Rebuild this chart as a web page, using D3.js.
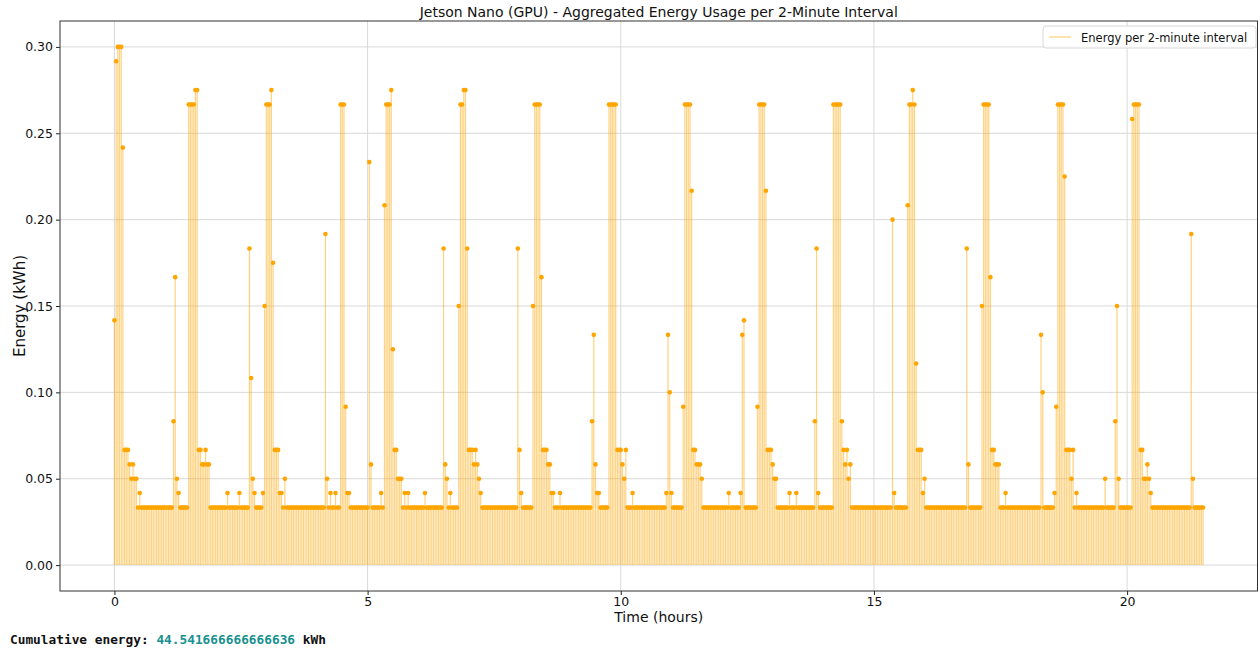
<!DOCTYPE html>
<html>
<head>
<meta charset="utf-8">
<script src="https://cdn.jsdelivr.net/npm/d3@7/dist/d3.min.js"></script>
<style>
  html, body { margin: 0; padding: 0; background: #fff; }
  svg { display: block; }
  .tick text { font-family: "DejaVu Sans", sans-serif; }
</style>
</head>
<body>
<svg id="chart" width="1260" height="651"></svg>
<script>
// ---- data ----
const title = "Jetson Nano (GPU) - Aggregated Energy Usage per 2-Minute Interval";
const xLabel = "Time (hours)";
const yLabel = "Energy (kWh)";
const seriesName = "Energy per 2-minute interval";
const intervalMinutes = 2;
const xTicks = [0, 5, 10, 15, 20];
const yTicks = [0.00, 0.05, 0.10, 0.15, 0.20, 0.25, 0.30];
const cumulativeLabel = "Cumulative energy: ";
const cumulativeValue = "44.541666666666636";
const cumulativeUnit = " kWh";

// energy per 2-minute interval (kWh), one row per hour (30 intervals)
const energy = [
  0.1417,0.2917,0.3,0.3,0.3,0.2417,0.0667,0.0667,0.0667,0.0583,0.05,0.0583,0.05,0.05,0.0333,0.0417,0.0333,0.0333,0.0333,0.0333,0.0333,0.0333,0.0333,0.0333,0.0333,0.0333,0.0333,0.0333,0.0333,0.0333,
  0.0333,0.0333,0.0333,0.0333,0.0333,0.0833,0.1667,0.05,0.0417,0.0333,0.0333,0.0333,0.0333,0.0333,0.2667,0.2667,0.2667,0.2667,0.275,0.275,0.0667,0.0667,0.0583,0.0583,0.0667,0.0583,0.0583,0.0333,0.0333,0.0333,
  0.0333,0.0333,0.0333,0.0333,0.0333,0.0333,0.0333,0.0417,0.0333,0.0333,0.0333,0.0333,0.0333,0.0333,0.0417,0.0333,0.0333,0.0333,0.0333,0.0333,0.1833,0.1083,0.05,0.0417,0.0333,0.0333,0.0333,0.0333,0.0417,0.15,
  0.2667,0.2667,0.2667,0.275,0.175,0.0667,0.0667,0.0667,0.0417,0.0417,0.0333,0.05,0.0333,0.0333,0.0333,0.0333,0.0333,0.0333,0.0333,0.0333,0.0333,0.0333,0.0333,0.0333,0.0333,0.0333,0.0333,0.0333,0.0333,0.0333,
  0.0333,0.0333,0.0333,0.0333,0.0333,0.1917,0.05,0.0333,0.0417,0.0333,0.0333,0.0417,0.0333,0.0333,0.2667,0.2667,0.2667,0.0917,0.0417,0.0417,0.0333,0.0333,0.0333,0.0333,0.0333,0.0333,0.0333,0.0333,0.0333,0.0333,
  0.0333,0.2333,0.0583,0.0333,0.0333,0.0333,0.0333,0.0333,0.0417,0.0333,0.2083,0.2667,0.2667,0.2667,0.275,0.125,0.0667,0.0667,0.05,0.05,0.05,0.0333,0.0417,0.0333,0.0417,0.0333,0.0333,0.0333,0.0333,0.0333,
  0.0333,0.0333,0.0333,0.0333,0.0417,0.0333,0.0333,0.0333,0.0333,0.0333,0.0333,0.0333,0.0333,0.0333,0.0333,0.1833,0.0583,0.05,0.0333,0.0417,0.0333,0.0333,0.0333,0.0333,0.15,0.2667,0.2667,0.275,0.275,0.1833,
  0.0667,0.0667,0.0667,0.0583,0.0667,0.0583,0.05,0.0417,0.0333,0.0333,0.0333,0.0333,0.0333,0.0333,0.0333,0.0333,0.0333,0.0333,0.0333,0.0333,0.0333,0.0333,0.0333,0.0333,0.0333,0.0333,0.0333,0.0333,0.0333,0.1833,
  0.0667,0.0417,0.0333,0.0333,0.0333,0.0333,0.0333,0.0333,0.15,0.2667,0.2667,0.2667,0.2667,0.1667,0.0667,0.0667,0.0667,0.0583,0.0583,0.0417,0.0417,0.0333,0.0333,0.0333,0.0417,0.0333,0.0333,0.0333,0.0333,0.0333,
  0.0333,0.0333,0.0333,0.0333,0.0333,0.0333,0.0333,0.0333,0.0333,0.0333,0.0333,0.0333,0.0333,0.0833,0.1333,0.0583,0.0417,0.0417,0.0333,0.0333,0.0333,0.0333,0.0333,0.2667,0.2667,0.2667,0.2667,0.2667,0.0667,0.0667,
  0.0667,0.0583,0.05,0.0667,0.0333,0.0333,0.0333,0.0417,0.0333,0.0333,0.0333,0.0333,0.0333,0.0333,0.0333,0.0333,0.0333,0.0333,0.0333,0.0333,0.0333,0.0333,0.0333,0.0333,0.0333,0.0333,0.0333,0.0417,0.1333,0.1,
  0.0417,0.0333,0.0333,0.0333,0.0333,0.0333,0.0333,0.0917,0.2667,0.2667,0.2667,0.2667,0.2167,0.0667,0.0667,0.0583,0.0583,0.0583,0.05,0.0333,0.0333,0.0333,0.0333,0.0333,0.0333,0.0333,0.0333,0.0333,0.0333,0.0333,
  0.0333,0.0333,0.0333,0.0333,0.0417,0.0333,0.0333,0.0333,0.0333,0.0333,0.0333,0.0417,0.1333,0.1417,0.0333,0.0333,0.0333,0.0333,0.0333,0.0333,0.0333,0.0917,0.2667,0.2667,0.2667,0.2667,0.2167,0.0667,0.0667,0.0667,
  0.0583,0.05,0.05,0.0333,0.0333,0.0333,0.0333,0.0333,0.0333,0.0333,0.0417,0.0333,0.0333,0.0333,0.0417,0.0333,0.0333,0.0333,0.0333,0.0333,0.0333,0.0333,0.0333,0.0333,0.0333,0.0833,0.1833,0.0417,0.0333,0.0333,
  0.0333,0.0333,0.0333,0.0333,0.0333,0.0333,0.2667,0.2667,0.2667,0.2667,0.2667,0.0833,0.0667,0.0583,0.0667,0.05,0.0583,0.0333,0.0333,0.0333,0.0333,0.0333,0.0333,0.0333,0.0333,0.0333,0.0333,0.0333,0.0333,0.0333,
  0.0333,0.0333,0.0333,0.0333,0.0333,0.0333,0.0333,0.0333,0.0333,0.0333,0.0333,0.2,0.0417,0.0333,0.0333,0.0333,0.0333,0.0333,0.0333,0.0333,0.2083,0.2667,0.2667,0.275,0.2667,0.1167,0.0667,0.0667,0.0667,0.0417,
  0.05,0.0333,0.0333,0.0333,0.0333,0.0333,0.0333,0.0333,0.0333,0.0333,0.0333,0.0333,0.0333,0.0333,0.0333,0.0333,0.0333,0.0333,0.0333,0.0333,0.0333,0.0333,0.0333,0.0333,0.0333,0.1833,0.0583,0.0333,0.0333,0.0333,
  0.0333,0.0333,0.0333,0.0333,0.15,0.2667,0.2667,0.2667,0.2667,0.1667,0.0667,0.0667,0.0583,0.0583,0.0583,0.0333,0.0333,0.0333,0.0417,0.0333,0.0333,0.0333,0.0333,0.0333,0.0333,0.0333,0.0333,0.0333,0.0333,0.0333,
  0.0333,0.0333,0.0333,0.0333,0.0333,0.0333,0.0333,0.0333,0.0333,0.1333,0.1,0.0333,0.0333,0.0333,0.0333,0.0333,0.0333,0.0417,0.0917,0.2667,0.2667,0.2667,0.2667,0.225,0.0667,0.0667,0.0667,0.05,0.0667,0.0333,
  0.0417,0.0333,0.0333,0.0333,0.0333,0.0333,0.0333,0.0333,0.0333,0.0333,0.0333,0.0333,0.0333,0.0333,0.0333,0.0333,0.0333,0.05,0.0333,0.0333,0.0333,0.0333,0.0333,0.0833,0.15,0.05,0.0333,0.0333,0.0333,0.0333,
  0.0333,0.0333,0.0333,0.2583,0.2667,0.2667,0.2667,0.2667,0.0667,0.0667,0.05,0.05,0.0583,0.05,0.0417,0.0333,0.0333,0.0333,0.0333,0.0333,0.0333,0.0333,0.0333,0.0333,0.0333,0.0333,0.0333,0.0333,0.0333,0.0333,
  0.0333,0.0333,0.0333,0.0333,0.0333,0.0333,0.0333,0.0333,0.1917,0.05,0.0333,0.0333,0.0333,0.0333,0.0333,0.0333
];

// ---- layout ----
const plot = { left: 60, right: 1257.5, top: 21, bottom: 591 };
const lineColor = "#FFA500";
const svg = d3.select("#chart");

const points = energy.map((v, i) => ({ t: i * intervalMinutes / 60, v }));
const tMax = d3.max(points, d => d.t);
const vMax = d3.max(energy);
const x = d3.scaleLinear().domain([-0.05 * tMax, tMax * 1.05]).range([plot.left, plot.right]);
const y = d3.scaleLinear().domain([-0.05 * vMax, vMax * 1.05]).range([plot.bottom, plot.top]);

// grid
const grid = svg.append("g");
grid.selectAll("line.gx").data(xTicks).join("line")
  .attr("x1", d => x(d)).attr("x2", d => x(d))
  .attr("y1", plot.top).attr("y2", plot.bottom)
  .attr("stroke", "#d9d9d9").attr("stroke-width", 1);
grid.selectAll("line.gy").data(yTicks).join("line")
  .attr("y1", d => y(d)).attr("y2", d => y(d))
  .attr("x1", plot.left).attr("x2", plot.right)
  .attr("stroke", "#d9d9d9").attr("stroke-width", 1);

// stems
const g = svg.append("g");
g.selectAll("line.stem").data(points).join("line")
  .attr("class", "stem")
  .attr("x1", d => x(d.t)).attr("x2", d => x(d.t))
  .attr("y1", y(0)).attr("y2", d => y(d.v))
  .attr("stroke", lineColor).attr("stroke-opacity", 0.5).attr("stroke-width", 1.2);

// markers
g.selectAll("circle").data(points).join("circle")
  .attr("cx", d => x(d.t)).attr("cy", d => y(d.v)).attr("r", 2.3)
  .attr("fill", lineColor);

// axes
const xAxis = svg.append("g").attr("transform", `translate(0,${plot.bottom})`)
  .call(d3.axisBottom(x).tickValues(xTicks).tickFormat(d3.format("d")).tickSize(4).tickPadding(2));
const yAxis = svg.append("g").attr("transform", `translate(${plot.left},0)`)
  .call(d3.axisLeft(y).tickValues(yTicks).tickFormat(d3.format(".2f")).tickSize(4).tickPadding(3));
[xAxis, yAxis].forEach(a => {
  a.select(".domain").remove();
  a.selectAll(".tick line").attr("stroke", "#222");
  a.selectAll(".tick text").attr("font-size", 12.5).attr("fill", "#111");
});

// frame
svg.append("rect")
  .attr("x", plot.left).attr("y", plot.top)
  .attr("width", plot.right - plot.left).attr("height", plot.bottom - plot.top)
  .attr("fill", "none").attr("stroke", "#333").attr("stroke-width", 1);

// title and labels
svg.append("text").attr("x", (plot.left + plot.right) / 2).attr("y", 17)
  .attr("text-anchor", "middle").attr("font-family", "DejaVu Sans, sans-serif")
  .attr("font-size", 14).attr("fill", "#111").text(title);
svg.append("text").attr("x", (plot.left + plot.right) / 2).attr("y", 622)
  .attr("text-anchor", "middle").attr("font-family", "DejaVu Sans, sans-serif")
  .attr("font-size", 14).attr("fill", "#111").text(xLabel);
svg.append("text")
  .attr("transform", `translate(25,${(plot.top + plot.bottom) / 2}) rotate(-90)`)
  .attr("text-anchor", "middle").attr("font-family", "DejaVu Sans, sans-serif")
  .attr("font-size", 15).attr("fill", "#111").text(yLabel);

// legend
const lg = svg.append("g").attr("transform", "translate(1043,26)");
lg.append("rect").attr("width", 213).attr("height", 22).attr("rx", 3)
  .attr("fill", "#fff").attr("fill-opacity", 0.85).attr("stroke", "#d8d8d8");
lg.append("line").attr("x1", 6).attr("x2", 28).attr("y1", 11).attr("y2", 11)
  .attr("stroke", lineColor).attr("stroke-opacity", 0.55).attr("stroke-width", 1.2);
lg.append("text").attr("x", 38).attr("y", 15.5)
  .attr("font-family", "DejaVu Sans, sans-serif").attr("font-size", 11.5).attr("fill", "#111")
  .text(seriesName);

// cumulative text
const ct = svg.append("text").attr("x", 10).attr("y", 644)
  .attr("font-family", "DejaVu Sans Mono, monospace").attr("font-size", 12.8)
  .attr("font-weight", "bold").attr("fill", "#111");
ct.append("tspan").text(cumulativeLabel);
ct.append("tspan").attr("fill", "#16908f").text(cumulativeValue);
ct.append("tspan").text(cumulativeUnit);
</script>
</body>
</html>
